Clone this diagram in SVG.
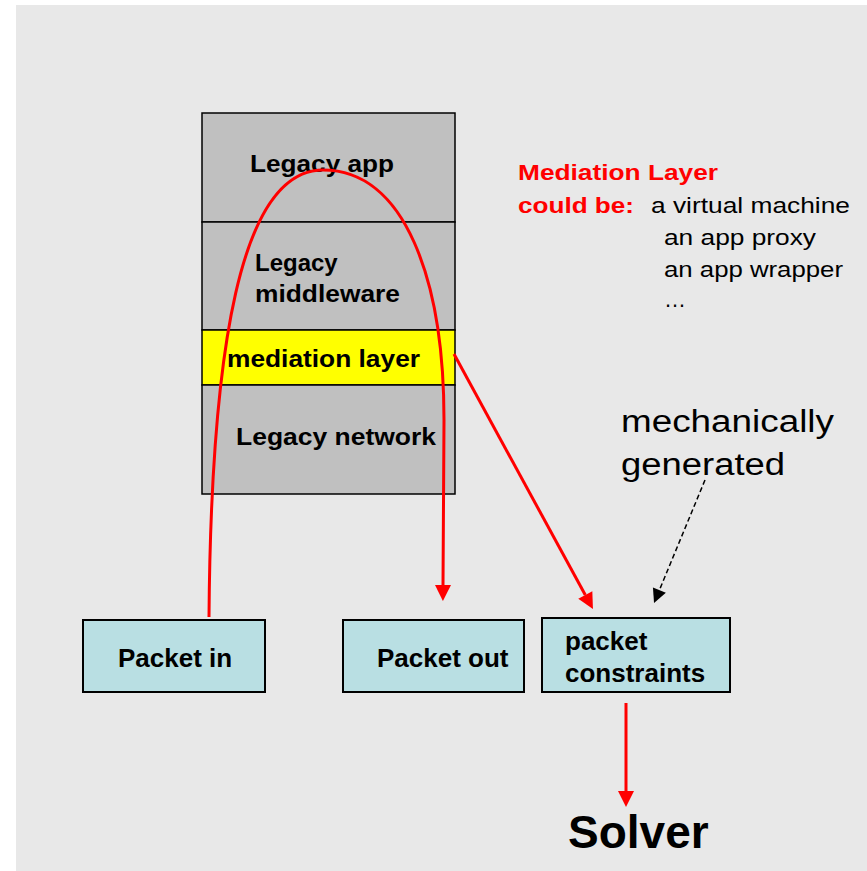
<svg xmlns="http://www.w3.org/2000/svg" width="867" height="871" viewBox="0 0 867 871">
  <style>
    .layer { fill: #c0c0c0; stroke: #000; stroke-width: 1.5; }
    .mediation { fill: #ffff00; stroke: #000; stroke-width: 1.5; }
    .box { fill: #b9dfe3; stroke: #000; stroke-width: 2; }
    .lbl { font-family: "Liberation Sans", Arial, sans-serif; font-weight: bold; fill: #000; }
    .note { font-family: "Liberation Sans", Arial, sans-serif; fill: #000; }
    .red { fill: #ff0000; }
    .flow { fill: none; stroke: #ff0000; stroke-width: 3; }
    .dash { fill: none; stroke: #000; stroke-width: 1.5; stroke-dasharray: 5 3; }
  </style>
  <defs>
    <marker id="redHead" markerUnits="userSpaceOnUse" markerWidth="17" markerHeight="16" refX="0" refY="8" orient="auto" overflow="visible">
      <path d="M0,0 L16,8 L0,16 z" fill="#ff0000"/>
    </marker>
    <marker id="blackHead" markerUnits="userSpaceOnUse" markerWidth="15" markerHeight="14" refX="0" refY="7" orient="auto" overflow="visible">
      <path d="M0,0 L14,7 L0,14 z" fill="#000"/>
    </marker>
  </defs>

  <!-- canvas -->
  <rect x="0" y="0" width="867" height="871" fill="#ffffff"/>
  <rect x="16" y="5" width="851" height="866" fill="#e8e8e8"/>

  <!-- software stack -->
  <g id="legacy-app">
    <rect class="layer" x="202" y="113" width="253" height="109"/>
    <text class="lbl" x="250" y="172" font-size="24" textLength="144" lengthAdjust="spacingAndGlyphs">Legacy app</text>
  </g>
  <g id="legacy-middleware">
    <rect class="layer" x="202" y="222" width="253" height="108"/>
    <text class="lbl" x="255" y="271" font-size="24">Legacy</text>
    <text class="lbl" x="255" y="302" font-size="24" textLength="145" lengthAdjust="spacingAndGlyphs">middleware</text>
  </g>
  <g id="mediation-layer">
    <rect class="mediation" x="202" y="330" width="253" height="55"/>
    <text class="lbl" x="227" y="367" font-size="24" textLength="193" lengthAdjust="spacingAndGlyphs">mediation layer</text>
  </g>
  <g id="legacy-network">
    <rect class="layer" x="202" y="385" width="253" height="109"/>
    <text class="lbl" x="236" y="445" font-size="24" textLength="200" lengthAdjust="spacingAndGlyphs">Legacy network</text>
  </g>

  <!-- side note -->
  <g id="mediation-note">
    <text class="lbl red" x="518" y="180" font-size="22" textLength="200" lengthAdjust="spacingAndGlyphs" style="fill:#ff0000">Mediation Layer</text>
    <text class="lbl" x="518" y="213" font-size="22" textLength="116" lengthAdjust="spacingAndGlyphs" style="fill:#ff0000">could be:</text>
    <text class="note" x="651" y="213" font-size="22" textLength="199" lengthAdjust="spacingAndGlyphs">a virtual machine</text>
    <text class="note" x="664" y="245" font-size="22" textLength="152" lengthAdjust="spacingAndGlyphs">an app proxy</text>
    <text class="note" x="664" y="277" font-size="22" textLength="179" lengthAdjust="spacingAndGlyphs">an app wrapper</text>
    <text class="note" x="664" y="307" font-size="22">…</text>
  </g>

  <g id="mechanical-note">
    <text class="note" x="621" y="432" font-size="31" textLength="213" lengthAdjust="spacingAndGlyphs">mechanically</text>
    <text class="note" x="621" y="475" font-size="31" textLength="164" lengthAdjust="spacingAndGlyphs">generated</text>
  </g>

  <!-- packets -->
  <g id="packet-in">
    <rect class="box" x="83" y="620" width="182" height="72"/>
    <text class="lbl" x="118" y="667" font-size="26">Packet in</text>
  </g>
  <g id="packet-out">
    <rect class="box" x="343" y="620" width="181" height="72"/>
    <text class="lbl" x="377" y="667" font-size="26">Packet out</text>
  </g>
  <g id="packet-constraints">
    <rect class="box" x="542" y="618" width="188" height="74"/>
    <text class="lbl" x="565" y="650" font-size="26">packet</text>
    <text class="lbl" x="565" y="682" font-size="26">constraints</text>
  </g>

  <g id="solver">
    <text class="lbl" x="568" y="848" font-size="46">Solver</text>
  </g>

  <!-- connectors -->
  <g id="connectors">
    <path class="flow" d="M209,617 C211,350 240,170 323,170 C405,170 444,280 444,420 L443,585" marker-end="url(#redHead)"/>
    <path class="flow" d="M454,354 L585.3,595" marker-end="url(#redHead)"/>
    <path class="flow" d="M626,703 L626,791" marker-end="url(#redHead)"/>
    <path class="dash" d="M705,480 L659.4,590.1" marker-end="url(#blackHead)"/>
  </g>
</svg>
